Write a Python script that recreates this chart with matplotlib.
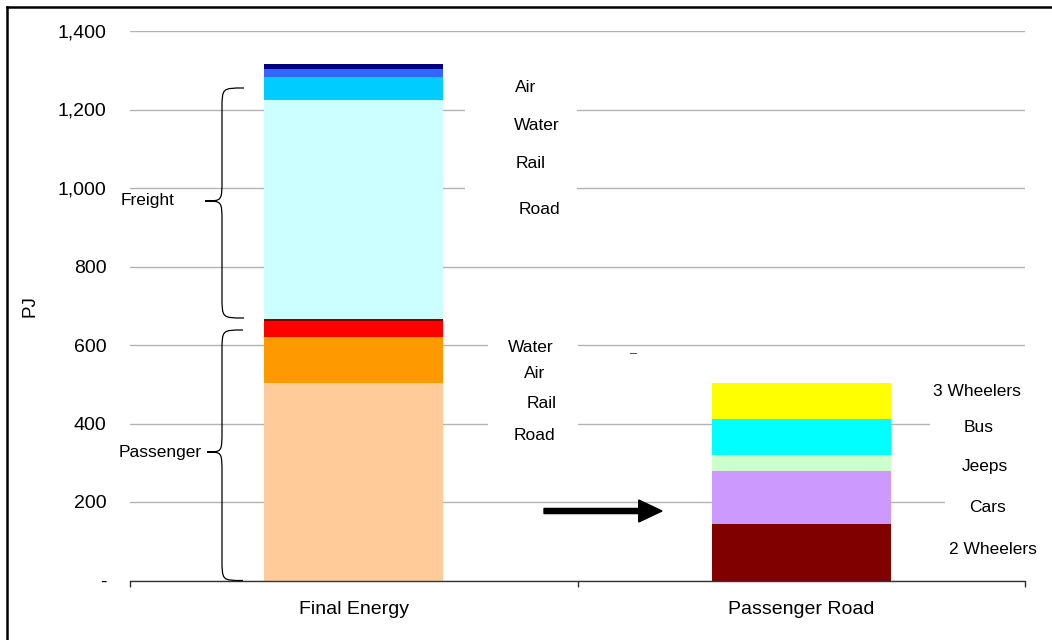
import matplotlib
matplotlib.use("Agg")
import matplotlib.pyplot as plt
from matplotlib.path import Path
from matplotlib.patches import PathPatch, Rectangle, FancyArrow
from matplotlib.ticker import FuncFormatter, FixedLocator
from matplotlib.lines import Line2D

plt.rcParams['font.family'] = ['Liberation Sans', 'DejaVu Sans']

# ---- data (PJ) ----
categories = ["Final Energy", "Passenger Road"]

passenger_modes = ["Road", "Rail", "Air", "Water"]
passenger_values = [503, 117, 41, 5]
passenger_colors = ["#FFCC99", "#FF9900", "#FF0000", "#800000"]

freight_modes = ["Road", "Rail", "Water", "Air"]
freight_values = [559, 59, 18, 15]
freight_colors = ["#CCFFFF", "#00CCFF", "#3366FF", "#000080"]

road_vehicles = ["2 Wheelers", "Cars", "Jeeps", "Bus", "3 Wheelers"]
road_values = [143, 137, 41, 91, 91]
road_colors = ["#800000", "#CC99FF", "#CCFFCC", "#00FFFF", "#FFFF00"]

y_ticks = [0, 200, 400, 600, 800, 1000, 1200, 1400]

# ---- figure ----
W, H = 1052, 640
fig = plt.figure(figsize=(W / 100, H / 100), dpi=100)
ax = fig.add_axes([130 / W, 59.5 / H, 895 / W, 549.5 / H])
ax.set_xlim(-0.5, 1.5)
ax.set_ylim(0, 1400)

# pixel helpers for annotation placement
def fx(px):
    return (px - 130) / 447.5 - 0.5

def fy(py):
    return (580.5 - py) / 0.3925

BAR_W = 0.40

# Final energy bar: passenger modes, then freight modes on top
bottom = 0
for v, c in zip(passenger_values + freight_values,
                passenger_colors + freight_colors):
    ax.bar(0, v, bottom=bottom, width=BAR_W, color=c, zorder=2, linewidth=0)
    bottom += v

# Passenger road split by vehicle type
bottom = 0
for v, c in zip(road_values, road_colors):
    ax.bar(1, v, bottom=bottom, width=BAR_W, color=c, zorder=2, linewidth=0)
    bottom += v

# gridlines
ax.set_axisbelow(True)
ax.yaxis.grid(True, color="#B3B3B3", linewidth=1.0)
ax.xaxis.grid(False)

# white label boxes breaking the gridlines
for (x0, x1, y0, y1) in [(465, 577, 225, 75), (488, 578, 450, 335),
                         (930, 1030, 440, 380), (945, 1030, 560, 440)]:
    ax.add_patch(Rectangle((fx(x0), fy(y0)), fx(x1) - fx(x0), fy(y1) - fy(y0),
                           facecolor="white", edgecolor="none", zorder=1))

# axes styling
for s in ["left", "top", "right"]:
    ax.spines[s].set_visible(False)
ax.spines["bottom"].set_color("#333333")
ax.spines["bottom"].set_linewidth(1.0)

ax.yaxis.set_major_locator(FixedLocator(y_ticks))
ax.yaxis.set_major_formatter(FuncFormatter(lambda v, p: "-" if v == 0 else f"{int(v):,}"))
ax.tick_params(axis="y", length=0, pad=17, labelsize=14, colors="black")

ax.set_xticks([0, 1])
ax.set_xticklabels(categories)
ax.set_xticks([-0.5, 0.5, 1.5], minor=True)
ax.tick_params(axis="x", which="major", length=0, pad=15, labelsize=14)
ax.tick_params(axis="x", which="minor", length=4.5, width=1, color="#333333",
               direction="out")

ax.set_ylabel("PJ", fontsize=13.5, labelpad=14)

# stack labels
LBL = dict(fontsize=12.5, ha="center", va="center", zorder=4)
freight_label_pos = {"Air": (526, 88), "Water": (537, 126),
                     "Rail": (531, 164), "Road": (539, 210)}
for m in ["Air", "Water", "Rail", "Road"]:
    px, py = freight_label_pos[m]
    ax.text(fx(px), fy(py), m, **LBL)

passenger_label_pos = {"Water": (531, 347), "Air": (535, 374),
                       "Rail": (542, 403), "Road": (534, 436)}
for m in ["Water", "Air", "Rail", "Road"]:
    px, py = passenger_label_pos[m]
    ax.text(fx(px), fy(py), m, **LBL)

vehicle_label_pos = {"3 Wheelers": (977, 392), "Bus": (979, 427),
                     "Jeeps": (985, 467), "Cars": (987, 508),
                     "2 Wheelers": (993, 549)}
for m in reversed(road_vehicles):
    px, py = vehicle_label_pos[m]
    ax.text(fx(px), fy(py), m, clip_on=False, **LBL)

ax.text(fx(634), fy(354), "\u2013", fontsize=9, ha="center", va="center",
        color="#333333", zorder=4)

# curly braces grouping the final energy bar
def brace(x_end, x_mid, x_tip, y_top, y_tip, y_bot, r):
    verts = [
        (x_end, y_top),
        (x_mid, y_top), (x_mid, y_top), (x_mid, y_top - r),
        (x_mid, y_tip + r),
        (x_mid, y_tip), (x_mid, y_tip), (x_tip, y_tip),
        (x_mid, y_tip), (x_mid, y_tip), (x_mid, y_tip - r),
        (x_mid, y_bot + r),
        (x_mid, y_bot), (x_mid, y_bot), (x_end, y_bot),
    ]
    codes = ([Path.MOVETO] + [Path.CURVE4] * 3 + [Path.LINETO] +
             [Path.CURVE4] * 6 + [Path.LINETO] + [Path.CURVE4] * 3)
    ax.add_patch(PathPatch(Path(verts, codes), facecolor="none",
                           edgecolor="black", linewidth=0.9, zorder=3,
                           clip_on=False))

brace(fx(244), fx(222), fx(205), fy(88), fy(201), fy(318), 55)
brace(fx(243), fx(222), fx(207), fy(330), fy(452), 0, 55)

ax.text(fx(148), fy(201), "Freight", fontsize=12.5, ha="center", va="center")
ax.text(fx(160), fy(452), "Passenger", fontsize=12.5, ha="center", va="center")

# arrow linking the road passenger segment to its breakdown
ax.add_patch(FancyArrow(fx(544), fy(511), fx(662) - fx(544), 0,
                        width=13, head_width=56, head_length=0.052,
                        length_includes_head=True, color="black", zorder=4))

# outer frame
fig.add_artist(Line2D([6.5 / W, 6.5 / W], [0, 1 - 6.5 / H],
                      transform=fig.transFigure, color="black", lw=1.8))
fig.add_artist(Line2D([6.5 / W, 1], [1 - 6.5 / H, 1 - 6.5 / H],
                      transform=fig.transFigure, color="black", lw=1.8))

fig.savefig("out.png", dpi=100)
